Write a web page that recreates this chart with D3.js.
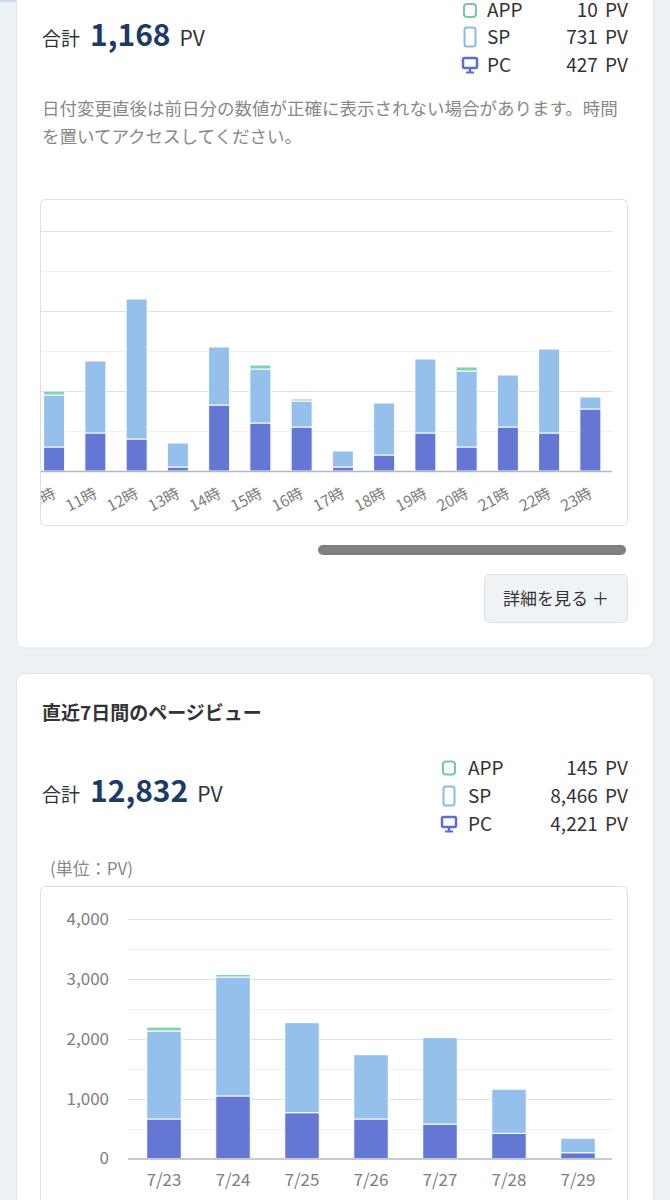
<!DOCTYPE html>
<html>
<head>
<meta charset="utf-8">
<script src="https://cdn.jsdelivr.net/npm/d3@7"></script>
<style>
  body { margin: 0; background: #eef1f4; }
  svg { display: block; font-family: "Noto Sans CJK JP", "Noto Sans", sans-serif; }
</style>
</head>
<body>
<svg id="page" width="670" height="1200"></svg>
<script>
// today's hourly page views (only 10時–23時 are visible, chart is scrolled right)
const hours = [10, 11, 12, 13, 14, 15, 16, 17, 18, 19, 20, 21, 22, 23];
const hourPC = [12, 19, 16, 2, 33, 24, 22, 2, 8, 19, 12, 22, 19, 31];
const hourSP = [26, 36, 70, 12, 29, 27, 13, 8, 26, 37, 38, 26, 42, 6];
const hourAPP = [2, 0, 0, 0, 0, 2, 1, 0, 0, 0, 2, 0, 0, 0];
const hourGrid = [20, 40, 60, 80, 100, 120];

// last 7 days
const days = ["7/23", "7/24", "7/25", "7/26", "7/27", "7/28", "7/29"];
const dayPC = [660, 1045, 765, 660, 575, 420, 96];
const daySP = [1470, 1985, 1505, 1075, 1445, 740, 246];
const dayAPP = [65, 45, 12, 10, 6, 5, 2];
const dayTicks = [0, 1000, 2000, 3000, 4000];
const dayGrid = [500, 1000, 1500, 2000, 2500, 3000, 3500, 4000];

// summary numbers
const devices = ["APP", "SP", "PC"];
const todayValues = [10, 731, 427];
const todayTotal = 1168;
const weekValues = [145, 8466, 4221];
const weekTotal = 12832;

const colors = { PC: "#6477d4", SP: "#94c0eb", APP: "#7fd3b1" };
const iconColors = { PC: "#5b6dcf", SP: "#8bb9e9", APP: "#74c9a6" };
const textDark = "#333";
const textGray = "#888";
const axisGray = "#7e7e7e";
const navy = "#1c3b68";
const fmt = d3.format(",");

const svg = d3.select("#page");

/***
 * Page frame: top strip, cards
 */
svg.append("rect").attr("x", 0).attr("y", 0).attr("width", 165).attr("height", 2).attr("fill", "#c9d9ec");

svg.append("rect")
    .attr("x", 16.5).attr("y", -30).attr("width", 637).attr("height", 678)
    .attr("rx", 8).attr("fill", "#fff").attr("stroke", "#dfe3e8");

svg.append("rect")
    .attr("x", 16.5).attr("y", 673.5).attr("width", 637).attr("height", 600)
    .attr("rx", 8).attr("fill", "#fff").attr("stroke", "#dfe3e8");

/***
 * Helpers
 */
function drawIcon(g, key, cx, cy) {
    const c = iconColors[key];
    if (key === "APP") {
        g.append("rect").attr("x", cx - 6).attr("y", cy - 6.5).attr("width", 12).attr("height", 13)
            .attr("rx", 3).attr("fill", "none").attr("stroke", c).attr("stroke-width", 2);
    } else if (key === "SP") {
        g.append("rect").attr("x", cx - 5.5).attr("y", cy - 9.5).attr("width", 11).attr("height", 19)
            .attr("rx", 2.5).attr("fill", "none").attr("stroke", c).attr("stroke-width", 2);
    } else {
        g.append("rect").attr("x", cx - 7).attr("y", cy - 7).attr("width", 14).attr("height", 10)
            .attr("rx", 1.5).attr("fill", "none").attr("stroke", c).attr("stroke-width", 2.5);
        g.append("line").attr("x1", cx).attr("x2", cx).attr("y1", cy + 3).attr("y2", cy + 7)
            .attr("stroke", c).attr("stroke-width", 2.5);
        g.append("line").attr("x1", cx - 4).attr("x2", cx + 4).attr("y1", cy + 7.5).attr("y2", cy + 7.5)
            .attr("stroke", c).attr("stroke-width", 2);
    }
}

function drawLegend(values, iconX, textX, rowY) {
    const g = svg.append("g");
    devices.forEach((key, i) => {
        const y = rowY[i];
        drawIcon(g, key, iconX, y);
        g.append("text").attr("x", textX).attr("y", y).attr("dy", "0.35em")
            .attr("font-size", 19).attr("fill", textDark).text(key);
        g.append("text").attr("x", 628).attr("y", y).attr("dy", "0.35em")
            .attr("text-anchor", "end").attr("font-size", 19).attr("fill", textDark)
            .attr("word-spacing", "3px")
            .text(fmt(values[i]) + " PV");
    });
}

function drawTotal(total, y) {
    const t = svg.append("text").attr("x", 42).attr("y", y).attr("dy", "0.35em").attr("fill", textDark);
    t.append("tspan").attr("font-size", 19).text("合計");
    t.append("tspan").attr("dx", 10).attr("font-size", 30).attr("font-weight", 700).attr("fill", navy).text(fmt(total));
    t.append("tspan").attr("dx", 9).attr("font-size", 21).text("PV");
}

/***
 * Card 1: today
 */
drawTotal(todayTotal, 40);
drawLegend(todayValues, 470, 487, [10.5, 37, 65]);

svg.append("text").attr("x", 42).attr("y", 109).attr("dy", "0.35em")
    .attr("font-size", 17.5).attr("fill", textGray)
    .text("日付変更直後は前日分の数値が正確に表示されない場合があります。時間");
svg.append("text").attr("x", 42).attr("y", 137).attr("dy", "0.35em")
    .attr("font-size", 17.5).attr("fill", textGray)
    .text("を置いてアクセスしてください。");

// chart box
svg.append("rect")
    .attr("x", 40.5).attr("y", 199.5).attr("width", 587).attr("height", 326)
    .attr("rx", 5).attr("fill", "#fff").attr("stroke", "#dcdfe3");

svg.append("clipPath").attr("id", "hourClip")
    .append("rect").attr("x", 41).attr("y", 200).attr("width", 586).attr("height", 325);

const hourChart = svg.append("g").attr("clip-path", "url(#hourClip)");

const hx = d3.scaleBand().domain(hours).range([33.5, 611]).paddingInner(0.49).paddingOuter(0.245);
const hy = d3.scaleLinear().domain([0, 120]).range([471, 231]);

hourChart.selectAll("line.grid")
    .data(hourGrid)
    .join("line")
    .attr("class", "grid")
    .attr("x1", 0).attr("x2", 612)
    .attr("y1", d => Math.round(hy(d)) + 0.5).attr("y2", d => Math.round(hy(d)) + 0.5)
    .attr("stroke", d => (d % 40 === 0 ? "#dddfe2" : "#eef0f2"));

const hourRows = hours.map((h, i) => ({ key: h, PC: hourPC[i], SP: hourSP[i], APP: hourAPP[i] }));
const hourStack = d3.stack().keys(["PC", "SP", "APP"])(hourRows);

hourChart.append("g")
    .selectAll("g")
    .data(hourStack)
    .join("g")
    .attr("fill", d => colors[d.key])
    .selectAll("rect")
    .data(d => d.filter(s => s[1] > s[0]))
    .join("rect")
    .attr("x", d => hx(d.data.key))
    .attr("y", d => hy(d[1]))
    .attr("width", hx.bandwidth())
    .attr("height", d => hy(d[0]) - hy(d[1]))
    .attr("stroke", "#fff")
    .attr("stroke-width", 1);

hourChart.append("line")
    .attr("x1", 0).attr("x2", 612).attr("y1", 471.5).attr("y2", 471.5)
    .attr("stroke", "#b4b7bb").attr("stroke-width", 1.5);

const hAxis = hourChart.append("g")
    .attr("transform", "translate(0,471)")
    .call(d3.axisBottom(hx).tickSize(0).tickFormat(d => d + "時"));
hAxis.select(".domain").remove();
hAxis.selectAll("text")
    .attr("x", 0).attr("y", 0).attr("dy", 0)
    .attr("text-anchor", "end")
    .attr("transform", "translate(3,26) rotate(-27)")
    .attr("font-size", 15.5)
    .attr("font-family", "\"Noto Sans CJK JP\", sans-serif")
    .attr("fill", axisGray);

// scrollbar
svg.append("rect").attr("x", 318).attr("y", 545).attr("width", 308).attr("height", 10)
    .attr("rx", 5).attr("fill", "#808080");

// detail button
svg.append("rect").attr("x", 484.5).attr("y", 574.5).attr("width", 143).attr("height", 48)
    .attr("rx", 5).attr("fill", "#f0f3f5").attr("stroke", "#dde1e6");
svg.append("text").attr("x", 556).attr("y", 599).attr("dy", "0.35em")
    .attr("text-anchor", "middle").attr("font-size", 17).attr("fill", textDark)
    .text("詳細を見る ＋");

/***
 * Card 2: last 7 days
 */
svg.append("text").attr("x", 42).attr("y", 713).attr("dy", "0.35em")
    .attr("font-size", 19).attr("font-weight", 700).attr("fill", textDark)
    .text("直近7日間のページビュー");

drawTotal(weekTotal, 796);
drawLegend(weekValues, 449, 468, [768, 796, 824]);

svg.append("text").attr("x", 50).attr("y", 869).attr("dy", "0.35em")
    .attr("font-size", 17).attr("fill", textGray).text("(単位：PV)");

svg.append("rect")
    .attr("x", 40.5).attr("y", 886.5).attr("width", 587).attr("height", 400)
    .attr("rx", 5).attr("fill", "#fff").attr("stroke", "#dcdfe3");

const wx = d3.scaleBand().domain(days).range([129.5, 612.5]).paddingInner(0.5).paddingOuter(0.25);
const wy = d3.scaleLinear().domain([0, 4000]).range([1158.5, 919]);

svg.append("g")
    .selectAll("line")
    .data(dayGrid)
    .join("line")
    .attr("x1", 128).attr("x2", 612)
    .attr("y1", d => Math.round(wy(d)) + 0.5).attr("y2", d => Math.round(wy(d)) + 0.5)
    .attr("stroke", d => (d % 1000 === 0 ? "#dddfe2" : "#eef0f2"));

const dayRows = days.map((d, i) => ({ key: d, PC: dayPC[i], SP: daySP[i], APP: dayAPP[i] }));
const dayStack = d3.stack().keys(["PC", "SP", "APP"])(dayRows);

svg.append("g")
    .selectAll("g")
    .data(dayStack)
    .join("g")
    .attr("fill", d => colors[d.key])
    .selectAll("rect")
    .data(d => d)
    .join("rect")
    .attr("x", d => wx(d.data.key))
    .attr("y", d => wy(d[1]))
    .attr("width", wx.bandwidth())
    .attr("height", d => wy(d[0]) - wy(d[1]))
    .attr("stroke", "#fff")
    .attr("stroke-width", 1);

svg.append("line")
    .attr("x1", 128).attr("x2", 612).attr("y1", 1159).attr("y2", 1159)
    .attr("stroke", "#b4b7bb").attr("stroke-width", 1.5);

const wyAxis = svg.append("g")
    .attr("transform", "translate(109,0)")
    .call(d3.axisLeft(wy).tickValues(dayTicks).tickFormat(fmt).tickSize(0).tickPadding(0));
wyAxis.select(".domain").remove();
wyAxis.selectAll("text")
    .attr("font-size", 17)
    .attr("font-family", "\"Noto Sans CJK JP\", sans-serif")
    .attr("fill", axisGray);

const wxAxis = svg.append("g")
    .attr("transform", "translate(0,1159)")
    .call(d3.axisBottom(wx).tickSize(0).tickPadding(15));
wxAxis.select(".domain").remove();
wxAxis.selectAll("text")
    .attr("font-size", 17)
    .attr("font-family", "\"Noto Sans CJK JP\", sans-serif")
    .attr("fill", axisGray);
</script>
</body>
</html>
